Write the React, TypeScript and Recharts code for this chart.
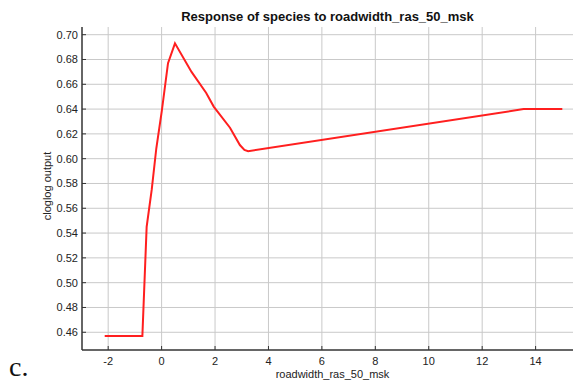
import React from 'react';
import { LineChart, Line, XAxis, YAxis, CartesianGrid } from 'recharts';

// response curve
const xValues = [-2.13, -0.72, -0.56, -0.37, -0.2, 0.01, 0.24, 0.5, 1.12, 1.67, 1.95, 2.56, 2.93, 3.1, 3.24, 13.55, 15.0];
const yValues = [0.457, 0.457, 0.545, 0.575, 0.608, 0.639, 0.677, 0.693, 0.67, 0.653, 0.642, 0.625, 0.611, 0.607, 0.606, 0.64, 0.64];

const xTicks = [-2, 0, 2, 4, 6, 8, 10, 12, 14];
const yTicks = [0.46, 0.48, 0.5, 0.52, 0.54, 0.56, 0.58, 0.6, 0.62, 0.64, 0.66, 0.68, 0.7];

const data = xValues.map((x, i) => ({ x, y: yValues[i] }));

const FONT = '"Liberation Sans", Arial, Helvetica, sans-serif';
const AXIS = '#333';

const BottomTick = (props: any) => {
  const { x, y, payload } = props;
  return (
    <g>
      <line x1={x} x2={x} y1={y} y2={y - 4} stroke={AXIS} strokeWidth={1} />
      <text x={x} y={y + 15} textAnchor="middle" fontSize={11} fill="#222" fontFamily={FONT}>
        {payload.value}
      </text>
    </g>
  );
};

const TopTick = (props: any) => {
  const { x, y } = props;
  return <line x1={x} x2={x} y1={y} y2={y + 4} stroke={AXIS} strokeWidth={1} />;
};

const LeftTick = (props: any) => {
  const { x, y, payload } = props;
  return (
    <g>
      <line x1={x} x2={x + 4} y1={y} y2={y} stroke={AXIS} strokeWidth={1} />
      <text x={x - 4} y={y + 4} textAnchor="end" fontSize={11} fill="#222" fontFamily={FONT}>
        {Number(payload.value).toFixed(2)}
      </text>
    </g>
  );
};

export default function App() {
  return (
    <div style={{ position: 'absolute', left: 0, top: 0, width: 574, height: 383, background: '#fff' }}>
      <div
        style={{
          position: 'absolute', left: 82, width: 491, top: 9, textAlign: 'center',
          fontFamily: FONT, fontWeight: 'bold', fontSize: 13, color: '#111',
        }}
      >
        Response of species to roadwidth_ras_50_msk
      </div>
      <div
        style={{
          position: 'absolute', left: 87, width: 491, top: 368, textAlign: 'center',
          fontFamily: FONT, fontSize: 11, color: '#222',
        }}
      >
        roadwidth_ras_50_msk
      </div>
      <div
        style={{
          position: 'absolute', left: 47, top: 186, transform: 'translate(-50%, -50%) rotate(-90deg)',
          whiteSpace: 'nowrap', fontFamily: FONT, fontSize: 11, color: '#222',
        }}
      >
        cloglog output
      </div>
      <div
        style={{
          position: 'absolute', left: 9, top: 353, lineHeight: '28px', fontFamily: '"Liberation Serif", "Times New Roman", serif',
          fontSize: 28, color: '#111',
        }}
      >
        c.
      </div>
      <LineChart width={574} height={383} data={data} margin={{ top: 27, right: 1, bottom: 0, left: 0 }}>
        <CartesianGrid stroke="#c9c9c9" strokeWidth={1} verticalValues={xTicks} horizontalValues={yTicks} />
        <XAxis
          dataKey="x"
          type="number"
          domain={[-2.98, 15.4]}
          ticks={xTicks}
          allowDataOverflow
          height={33}
          tickSize={0}
          tickMargin={0}
          tickLine={false}
          axisLine={{ stroke: AXIS, strokeWidth: 1.5 }}
          tick={<BottomTick />}
          interval={0}
        />
        <XAxis
          xAxisId="top"
          orientation="top"
          dataKey="x"
          type="number"
          domain={[-2.98, 15.4]}
          ticks={xTicks}
          allowDataOverflow
          height={0}
          tickSize={0}
          tickMargin={0}
          tickLine={false}
          axisLine={{ stroke: '#111', strokeWidth: 1.5 }}
          tick={<TopTick />}
          interval={0}
        />
        <YAxis
          type="number"
          domain={[0.4457, 0.7062]}
          ticks={yTicks}
          allowDataOverflow
          width={82}
          tickSize={0}
          tickMargin={0}
          tickLine={false}
          axisLine={{ stroke: AXIS, strokeWidth: 1.5 }}
          tick={<LeftTick />}
          interval={0}
        />
        <Line
          type="linear"
          dataKey="y"
          stroke="#ff1f1f"
          strokeWidth={2}
          dot={false}
          isAnimationActive={false}
        />
      </LineChart>
    </div>
  );
}
